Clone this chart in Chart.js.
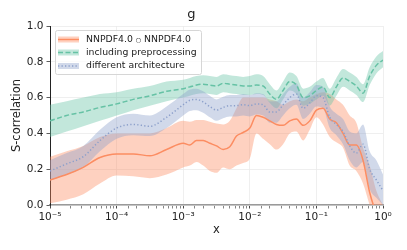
<!DOCTYPE html>
<html>
<head>
<meta charset="utf-8">
<script src="https://cdn.jsdelivr.net/npm/chart.js@4.4.1/dist/chart.umd.min.js"></script>
<style>
  html, body { margin: 0; padding: 0; background: #fff; }
  canvas { display: block; }
</style>
</head>
<body>
<canvas id="chart" width="407" height="250"></canvas>
<script>
// exponents of x (x = 10^e)
const xExp = [-5, -4.75, -4.5, -4.25, -4, -3.75, -3.5, -3.25, -3,
  -2.9, -2.8, -2.7, -2.6, -2.5, -2.4, -2.3, -2.2, -2.1, -2.0,
  -1.9, -1.8, -1.7, -1.6, -1.5, -1.4, -1.3, -1.2, -1.1, -1.0,
  -0.9, -0.8, -0.7, -0.6, -0.5, -0.4, -0.3, -0.2, -0.1, 0];

// NNPDF4.0 o NNPDF4.0
const oMid = [0.14, 0.17, 0.21, 0.265, 0.285, 0.285, 0.275, 0.31, 0.345,
  0.335, 0.36, 0.36, 0.345, 0.33, 0.31, 0.325, 0.385, 0.405, 0.43,
  0.50, 0.49, 0.47, 0.45, 0.445, 0.47, 0.48, 0.445, 0.47, 0.53,
  0.54, 0.48, 0.46, 0.40, 0.335, 0.335, 0.25, 0.07, -0.05, -0.15];
const oLo = [0.01, 0.03, 0.06, 0.12, 0.165, 0.16, 0.15, 0.17, 0.21,
  0.22, 0.24, 0.22, 0.19, 0.18, 0.21, 0.20, 0.22, 0.235, 0.26,
  0.40, 0.37, 0.34, 0.31, 0.34, 0.40, 0.41, 0.36, 0.42, 0.49,
  0.45, 0.38, 0.35, 0.32, 0.22, 0.19, 0.12, 0.0, -0.1, -0.2];
const oHi = [0.27, 0.30, 0.33, 0.38, 0.40, 0.40, 0.40, 0.43, 0.47,
  0.465, 0.475, 0.475, 0.465, 0.455, 0.45, 0.47, 0.54, 0.60, 0.60,
  0.60, 0.60, 0.59, 0.58, 0.56, 0.58, 0.59, 0.58, 0.60, 0.62,
  0.63, 0.62, 0.59, 0.56, 0.50, 0.46, 0.32, 0.22, 0.08, 0.0];

// including preprocessing
const gMid = [0.47, 0.50, 0.52, 0.545, 0.565, 0.59, 0.61, 0.635, 0.65,
  0.66, 0.67, 0.675, 0.67, 0.665, 0.68, 0.675, 0.67, 0.665, 0.665,
  0.67, 0.665, 0.62, 0.59, 0.64, 0.69, 0.67, 0.60, 0.61, 0.64,
  0.66, 0.60, 0.66, 0.71, 0.69, 0.665, 0.625, 0.72, 0.78, 0.81];
const gLo = [0.38, 0.41, 0.44, 0.47, 0.50, 0.53, 0.555, 0.58, 0.60,
  0.61, 0.62, 0.625, 0.62, 0.615, 0.63, 0.625, 0.62, 0.615, 0.615,
  0.62, 0.615, 0.57, 0.54, 0.59, 0.64, 0.62, 0.555, 0.565, 0.59,
  0.61, 0.555, 0.61, 0.66, 0.64, 0.615, 0.575, 0.67, 0.735, 0.77];
const gHi = [0.56, 0.58, 0.60, 0.62, 0.63, 0.65, 0.665, 0.69, 0.70,
  0.71, 0.72, 0.725, 0.72, 0.715, 0.73, 0.725, 0.72, 0.715, 0.72,
  0.73, 0.72, 0.675, 0.64, 0.69, 0.74, 0.72, 0.65, 0.66, 0.69,
  0.71, 0.65, 0.71, 0.76, 0.74, 0.715, 0.675, 0.77, 0.83, 0.86];

// different architecture
const bMid = [0.19, 0.23, 0.27, 0.36, 0.43, 0.45, 0.44, 0.49, 0.56,
  0.585, 0.59, 0.575, 0.55, 0.53, 0.545, 0.555, 0.555, 0.56, 0.555,
  0.565, 0.56, 0.52, 0.52, 0.56, 0.60, 0.62, 0.54, 0.57, 0.61,
  0.60, 0.49, 0.45, 0.41, 0.33, 0.29, 0.34, 0.20, 0.14, 0.08];
const bLo = [0.135, 0.17, 0.21, 0.30, 0.37, 0.39, 0.385, 0.43, 0.50,
  0.525, 0.53, 0.515, 0.49, 0.47, 0.485, 0.495, 0.495, 0.50, 0.495,
  0.505, 0.50, 0.46, 0.46, 0.50, 0.54, 0.56, 0.48, 0.51, 0.55,
  0.54, 0.43, 0.39, 0.34, 0.25, 0.21, 0.24, 0.09, 0.04, 0.0];
const bHi = [0.25, 0.29, 0.33, 0.42, 0.49, 0.51, 0.50, 0.55, 0.62,
  0.645, 0.65, 0.635, 0.61, 0.59, 0.605, 0.615, 0.615, 0.62, 0.615,
  0.625, 0.62, 0.58, 0.58, 0.62, 0.66, 0.68, 0.60, 0.63, 0.67,
  0.66, 0.55, 0.51, 0.48, 0.41, 0.40, 0.45, 0.30, 0.25, 0.17];

const seriesNames = ['NNPDF4.0 \u25CB NNPDF4.0', 'including preprocessing', 'different architecture'];
const yTicks = [0.0, 0.2, 0.4, 0.6, 0.8, 1.0];
const yTickLabels = ['0.0', '0.2', '0.4', '0.6', '0.8', '1.0'];
const xTickLabels = {'-5': '10\u207B\u2075', '-4': '10\u207B\u2074', '-3': '10\u207B\u00B3',
  '-2': '10\u207B\u00B2', '-1': '10\u207B\u00B9', '0': '10\u2070'};

const colors = ['#fc8d62', '#66c2a5', '#8da0cb'];
const fills = ['rgba(252,141,98,0.40)', 'rgba(102,194,165,0.40)', 'rgba(141,160,203,0.40)'];
const dashes = [[], [5, 2.5], [1.3, 2.2]];

Chart.defaults.font.family = 'DejaVu Sans';
Chart.defaults.color = '#222';

const xs = xExp.map(e => Math.pow(10, e));
const pts = arr => arr.map((v, i) => ({x: xs[i], y: v}));

function isMajor(v) {
  const l = Math.log10(v);
  return Math.abs(l - Math.round(l)) < 1e-6;
}

function band(lo, hi, k, order) {
  return [
    {data: pts(lo), borderWidth: 0, pointRadius: 0, fill: false, order: order,
     cubicInterpolationMode: 'monotone'},
    {data: pts(hi), borderWidth: 0, pointRadius: 0, fill: '-1', backgroundColor: fills[k],
     order: order, cubicInterpolationMode: 'monotone'}
  ];
}
function line(mid, k, order) {
  return {data: pts(mid), borderColor: colors[k], borderWidth: 1.5, borderDash: dashes[k],
    pointRadius: 0, fill: false, order: order, cubicInterpolationMode: 'monotone'};
}

const datasets = [].concat(
  band(oLo, oHi, 0, 6), band(gLo, gHi, 1, 5), band(bLo, bHi, 2, 4),
  [line(oMid, 0, 3), line(gMid, 1, 2), line(bMid, 2, 1)]
);

// legend drawn inside the axes, matplotlib style
const innerLegend = {
  id: 'innerLegend',
  afterDraw(chart) {
    const ctx = chart.ctx;
    const bx = 55, by = 30, bw = 146, bh = 44;
    ctx.save();
    ctx.fillStyle = 'rgba(255,255,255,0.8)';
    ctx.strokeStyle = '#d6d6d6';
    ctx.lineWidth = 1;
    ctx.beginPath();
    ctx.roundRect(bx + 0.5, by + 0.5, bw, bh, 2);
    ctx.fill();
    ctx.stroke();
    const rows = [39.5, 52.5, 66];
    rows.forEach((ry, k) => {
      ctx.fillStyle = fills[k];
      ctx.fillRect(58, ry - 3, 21, 6);
      ctx.strokeStyle = colors[k];
      ctx.lineWidth = 1.5;
      ctx.setLineDash(dashes[k]);
      ctx.beginPath();
      ctx.moveTo(58, ry);
      ctx.lineTo(79, ry);
      ctx.stroke();
      ctx.setLineDash([]);
      ctx.fillStyle = '#222';
      ctx.textBaseline = 'middle';
      ctx.textAlign = 'left';
      if (k === 0) {
        const parts = seriesNames[0].split('\u25CB');
        ctx.font = '9.3px "DejaVu Sans"';
        let x = 86;
        ctx.fillText(parts[0], x, ry);
        x += ctx.measureText(parts[0]).width;
        ctx.font = '6.2px "DejaVu Sans"';
        ctx.fillText('\u25CB', x, ry + 1);
        x += ctx.measureText('\u25CB').width;
        ctx.font = '9.3px "DejaVu Sans"';
        ctx.fillText(parts[1], x, ry);
      } else {
        ctx.font = '9.3px "DejaVu Sans"';
        ctx.fillText(seriesNames[k], 86, ry);
      }
    });
    ctx.restore();
  }
};

new Chart(document.getElementById('chart'), {
  type: 'line',
  data: {datasets: datasets},
  plugins: [innerLegend],
  options: {
    responsive: false,
    animation: false,
    devicePixelRatio: 1,
    layout: {padding: {left: 0, right: 24, top: 0, bottom: 0}},
    plugins: {
      legend: {display: false},
      tooltip: {enabled: false},
      title: {display: true, text: 'g', font: {size: 13, weight: 'normal'}, color: '#222',
        padding: {top: 7, bottom: 3.4}}
    },
    scales: {
      x: {
        type: 'logarithmic', min: 1e-5, max: 1,
        afterFit: s => { s.height = 45; },
        title: {display: true, text: 'x', font: {size: 11.5}, color: '#222', padding: {top: 0, bottom: 13}},
        border: {color: '#9a9a9a', width: 1.6},
        grid: {
          color: c => (c.tick && isMajor(c.tick.value)) ? '#ebebeb' : 'rgba(0,0,0,0)',
          tickColor: '#333',
          tickWidth: c => (c.tick && isMajor(c.tick.value)) ? 0.9 : 0.6,
          tickLength: 3.5,
          lineWidth: 0.8
        },
        ticks: {
          autoSkip: false, maxRotation: 0, padding: 2,
          font: {size: 10.5}, color: '#222',
          callback: function (v) {
            if (!isMajor(v)) return '';
            return xTickLabels[String(Math.round(Math.log10(v)))];
          }
        }
      },
      y: {
        min: 0, max: 1,
        afterFit: s => { s.width = 50; },
        afterBuildTicks: s => { s.ticks = yTicks.map(v => ({value: v})); },
        title: {display: true, text: 'S-correlation', font: {size: 11.5}, color: '#222', padding: {top: 10, bottom: 0}},
        border: {color: '#222', width: 1},
        grid: {color: '#ebebeb', tickColor: '#333', tickLength: 3.5, lineWidth: 0.8},
        ticks: {
          padding: 3, font: {size: 10.5}, color: '#222',
          callback: function (v) {
            const i = yTicks.findIndex(t => Math.abs(t - v) < 1e-9);
            return i >= 0 ? yTickLabels[i] : '';
          }
        }
      }
    }
  }
});
</script>
</body>
</html>
